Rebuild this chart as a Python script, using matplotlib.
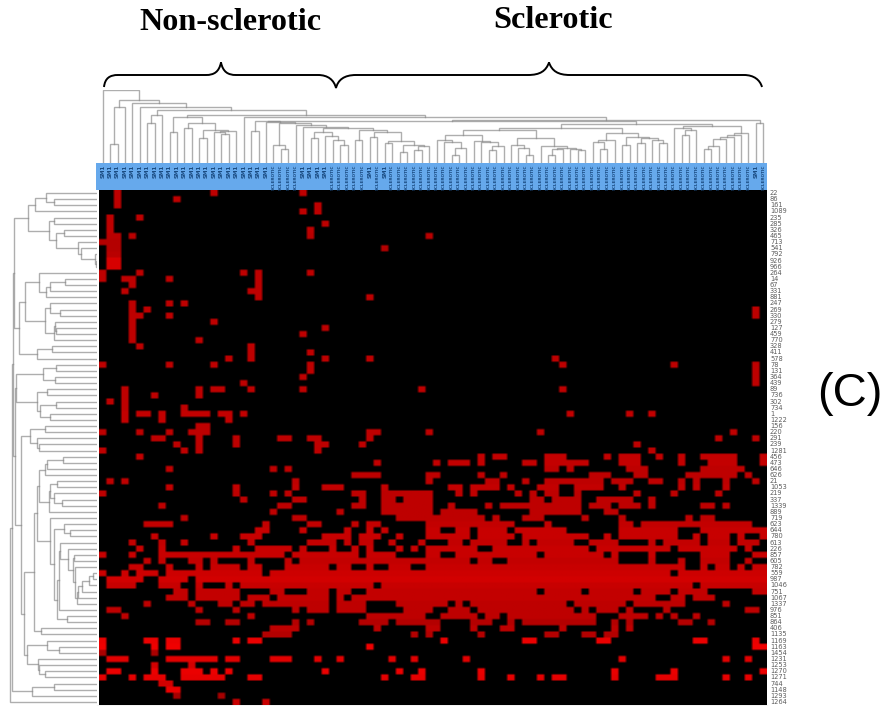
#!/usr/bin/env python3
"""Clustered heatmap of non-sclerotic vs sclerotic samples, panel (C)."""

import numpy as np
import matplotlib

matplotlib.use("Agg")

import matplotlib.pyplot as plt
from matplotlib.path import Path
from matplotlib.patches import PathPatch

W, H = 885, 706

ROW_LABELS = [22, 86, 161, 1089, 235, 285, 326, 465, 713, 541, 792, 926, 966, 264, 14, 67, 331,
              881, 247, 269, 330, 279, 127, 459, 770, 328, 411, 578, 78, 131, 364, 439, 89, 736,
              302, 734, 1, 1222, 156, 220, 291, 239, 1281, 456, 473, 646, 626, 21, 1053, 219,
              337, 1339, 889, 719, 623, 644, 780, 613, 226, 857, 605, 782, 559, 987, 1046, 751,
              1067, 1337, 976, 851, 864, 406, 1135, 1169, 1163, 1454, 1231, 1253, 1270, 1271,
              744, 1148, 1293, 1264]

N_COLS = 90
SHORT_COLS = list(range(23)) + [27, 28, 29, 30, 36, 38, 88]
SHORT_NAME = "SM1"
LONG_NAME = "SCLEROTIC"

# red cells of every row, as column runs
RED_RUNS = [
    "2 15 27", "2 10", "2 29", "27 29", "1 5", "1 30", "1 28", "1-2 4 28 44", "0-2", "1-2 38",
    "1-2", "1-2", "1-2", "0 5 19 21 28", "0 3-4 9 21", "4 21", "3 20-21", "21 36", "4 9 11",
    "4 6 88", "4-5 9 88", "4 15", "4 30", "4 27", "4 13", "5 20", "20 28", "17 20 30 36 61",
    "0 9 15 28 62 77 88", "28 88", "27 88", "19 88", "3 13 15-16 20 27 43 62", "3 7 13", "1 3",
    "3 11", "3 5-6 8 11-14 16-17 19 63 71 74", "3 8 17", "13-14",
    "0 5 9 12-14 36-37 44 59 85", "7-8 13 18 24-25 28-29 36 83 88",
    "10 13 18 29-30 35 72", "0 11 13 29 74",
    "5 51 53-54 60-62 68 70-72 75 78 81-85 89",
    "37 45 47-49 51 57-58 60-65 70-72 78 82-85 89",
    "9 23 25 60-61 63 71-73 81-86",
    "34-37 44-45 51 54 66-68 72-73 79-85 87",
    "1 3 26 44 52-53 57 60-67 69-71 74-75 78 80 84 88",
    "9 18 26 30-32 38 47-48 50-53 55 59-61 64-67 70 78 80 84",
    "0 18 23 25 34-35 38-44 48 50 56 58 60-61 64 72 77 83",
    "19 26-27 35 38-39 41-44 58-59 61-64 67-71 74",
    "8 24-25 34-35 38-44 47 52 54-64 66-68 70-72 74 81-82 84",
    "23 32 38-44 46-50 58-64 68-69",
    "11 26-27 40-51 53 57-59 65 70 79 81-82",
    "6-9 22 28-29 34 36-37 44-55 60 70-71 73-87",
    "21-22 27 33 36 38 44-45 48-49 51-54 56-62 70-77 81-89",
    "7 15 19-21 30-33 35-37 40 44-49 51-55 57-65 68 70-77 80 82-84 86 89",
    "4 8 11 20 28-31 33 35-36 39 43 47-48 50-54 57 59-63 66-69 74 76-80 82-84 86-88",
    "5 8 18 21-25 27 31 34 36 40 42 44-50 53-65 67-76 78-85 87",
    "0 4 8-24 26-34 36-39 44-45 48-58 60-67 69 74 81-84 88-89",
    "6 8 12-13 15 20 25 27-49 51-52 55-69 74 78 81-84 87",
    "4-5 9 13 15-18 20-21 25-30 32-33 36 39-41 44-78 81 83-84 86 88-89",
    "0 3 5-7 9-21 23-76 78-89",
    "1-5 8-11 13-89",
    "1-4 8-10 13 17 19-36 38-79 81-89",
    "10-11 13-18 23-24 28-30 32-33 36-58 60-64 66-71 73-76 78-81 88-89",
    "9-11 13-18 20-22 24-30 32 34-74 77-78 80-82",
    "6 12 16-17 19-20 22-30 32-35 40-46 48 50-62 64-70 72-78 84",
    "1-2 13 18 26 28-30 32-35 41-44 47-49 51-63 65 67-69 71 76 87-88",
    "3 20 36-43 46-50 52-53 55-66 70-73 75 77 80",
    "13-14 17-18 26 28 35-38 40-45 50-52 55 57-66 69 71 78-79 82",
    "23-26 37 44-45 50 54-55 62 69 71",
    "22-25 42 44 51 60-61 65-66 68-69",
    "0 6-7 9-10 18 20-21 46 57-58 67-68 80-81 88",
    "0 7 9-10 36 88-89",
    "0 7",
    "1-3 9-15 17-18 23-25 29 32 39 42 49 70 84 87",
    "7 12",
    "1-2 7 11-13 15 17 30 40 43 51 69 77 89",
    "0 4 6-8 11-14 15-16 20-21 38 42-43 51 55 59 61-62 69 75-77 84 87",
    "8-9", "9-10", "10 16", "18 22",
]

# red level of every row (0-255)
ROW_SHADE = [190, 190, 190, 190, 190, 190, 190, 185, 180, 180, 185, 215, 215, 190, 190, 190, 190,
             190, 190, 190, 190, 190, 190, 190, 190, 190, 190, 190, 190, 190, 190, 190, 190, 190,
             190, 190, 195, 195, 190, 190, 190, 190, 190, 195, 195, 190, 190, 190, 195, 190, 190,
             190, 190, 190, 195, 200, 200, 195, 200, 200, 195, 200, 205, 210, 200, 195, 195, 190,
             190, 190, 180, 190, 180, 235, 240, 170, 225, 210, 235, 230, 210, 235, 165, 200]

# dendrograms: (height, left, right), 0 is a leaf; heights in pixels
t_a = (56, (19, 0, 0), 0)
t_b = (48, (40, 0, 0), 0)
t_e = (46, (31, 0, 0), (40, (35, 0, 0), (33, (25, 0, 0), (32, (31, 0, (29, 0, 0)), 0))))
c45 = (23, 0, (21, 0, (15, (8, 0, 0), 0)))
c50 = (22, 0, (21, 0, (17, (13, 0, 0), 0)))
c55 = (18, 0, (15, 0, (8, 0, 0)))
c59 = (17, 0, (15, (14, (8, 0, 0), 0), (14, 0, (13, 0, 0))))
c66 = (23, (21, 0, (14, 0, 0)), 0)
c70 = (26, (18, 0, 0), (25, (20, 0, 0), (23, 0, (20, 0, 0))))
c77 = (35, 0, (33, (28, 0, 0), 0))
c81 = (30, (28, (26, (24, (17, (14, 0, 0), 0), 0), 0), 0), 0)
m3 = (33, (28, c45, c50), (25, c55, c59))
m7 = (39, (35, m3, (30, c66, c70)), (37, c77, c81))
k3 = (31, (25, 0, 0), (27, 0, (23, 0, (18, 0, 0))))
k6 = (22, (20, 0, 0), (18, (11, 0, 0), (17, (13, 0, 0), 0)))
k9 = (35, k3, (33, (23, 0, 0), (31, (26, 0, 0), k6)))
y1 = (42, (32, 0, 0), (41, 0, (40, (18, 0, (14, 0, 0)), (38, 0, (36, 0, k9)))))
r0 = (46, 0, (43.5, (42.5, y1, m7), (40, 0, 0)))
TOP_TREE = (73, 0, (63, t_a, (60, 0, (56, 0, (53, t_b, (48, t_e, r0))))))

a_top = (69, (62, (51, 0, (43, 0, 0)), 0),
         (48, (43, 0, 0), (41, (33, 0, 0), (19, 0, (16, 0, (2, 0, (1, 0, 0)))))))
e_f = (72, (58, 0, (51, (47, (32, 0, 0), 0), 0)),
       (52, (47, 0, (37, 0, 0)), (43, (42, 0, (41, 0, 0)), 0)))
a_b = (83, a_top, (78, e_f, (60, (45, 0, 0), 0)))
g_h = (81, (54, (41, 0, 0), (42, 0, 0)), (60, (50, 0, 0), (57, (41, 0, 0), (47, 0, 0))))
j_top = (67, (52, 0, 0), (60, 0, (58, 0, 0)))
k_3 = (58, (52, (50, (34, 0, 0), 0), 0), (48, (47, (40, 0, 0), (43, 0, (35, 0, 0))), 0))
q_2 = (20, (19, (15, (8, (4, 0, 0), 0), 0), 0), 0)
p_5 = (40, (38, (37, 0, (29, 0, (24, (23, 0, 0), (22, 0, q_2)))), 0), (30, 0, 0))
k_4 = (47, 0, (43, (33, 0, (27, 0, 0)), p_5))
l_1 = (70, (50, 0, (38, 0, 0)), (59, 0, (58, 0, (52, 0, 0))))
k_7 = (73, (63, (60, k_3, k_4), (56, 0, 0)), l_1)
LEFT_TREE = (87, (85, (84, a_b, (82, g_h, (76, j_top, k_7))), (65, (43, 0, 0), 0)), 0)


def px_axes(fig, x, y, w, h):
    ax = fig.add_axes([x / W, 1 - (y + h) / H, w / W, h / H])
    ax.axis("off")
    return ax


def parse_runs(text):
    cols = []
    for part in text.split():
        a, _, b = part.partition("-")
        cols.extend(range(int(a), int(b or a) + 1))
    return cols


def draw_tree(ax, node, counter, horizontal):
    if node == 0:
        counter[0] += 1
        return counter[0] - 1 + 0.5, 0
    height, left, right = node
    p1, h1 = draw_tree(ax, left, counter, horizontal)
    p2, h2 = draw_tree(ax, right, counter, horizontal)
    pos = [p1, p1, p2, p2]
    hts = [h1, height, height, h2]
    if horizontal:
        ax.plot(pos, hts, color="#8c8c8c", lw=1.0, alpha=0.7, solid_joinstyle="miter")
    else:
        ax.plot(hts, pos, color="#8c8c8c", lw=1.0, alpha=0.7, solid_joinstyle="miter")
    return (p1 + p2) / 2, height


def brace(ax):
    verts = [(104, 87), (105, 78), (110, 75), (118, 75),
             (206, 75), (214, 75), (219, 72), (221, 62.5),
             (223, 72), (228, 75), (236, 75),
             (318, 75), (328, 75), (334, 80), (336, 88),
             (338, 80), (344, 75), (356, 75),
             (528, 75), (540, 75), (546, 71), (549, 62.5),
             (552, 71), (558, 75), (570, 75),
             (744, 75), (754, 75), (760, 80), (762, 87)]
    codes = [Path.MOVETO, Path.CURVE4, Path.CURVE4, Path.CURVE4,
             Path.LINETO, Path.CURVE4, Path.CURVE4, Path.CURVE4,
             Path.CURVE4, Path.CURVE4, Path.CURVE4,
             Path.LINETO, Path.CURVE4, Path.CURVE4, Path.CURVE4,
             Path.CURVE4, Path.CURVE4, Path.CURVE4,
             Path.LINETO, Path.CURVE4, Path.CURVE4, Path.CURVE4,
             Path.CURVE4, Path.CURVE4, Path.CURVE4,
             Path.LINETO, Path.CURVE4, Path.CURVE4, Path.CURVE4]
    ax.add_patch(PathPatch(Path(verts, codes), fc="none", ec="black", lw=1.4))


def main():
    fig = plt.figure(figsize=(W / 100, H / 100), dpi=100)
    n_rows = len(ROW_LABELS)

    # heatmap, upsampled a little so the cells get the soft edges of the original
    grid = np.zeros((n_rows, N_COLS, 3))
    for r, text in enumerate(RED_RUNS):
        grid[r, parse_runs(text), 0] = ROW_SHADE[r] / 255
    grid = grid.repeat(3, axis=0).repeat(3, axis=1)
    ax = px_axes(fig, 99, 190, 668, 515)
    ax.imshow(grid, aspect="auto", interpolation="bilinear",
              extent=(0, N_COLS, n_rows, 0))

    # sample band
    ax = px_axes(fig, 96, 163, 671, 27)
    ax.set_facecolor("#66a9ec")
    ax.patch.set_visible(True)
    ax.axis("on")
    ax.set_xticks([])
    ax.set_yticks([])
    for s in ax.spines.values():
        s.set_visible(False)
    ax.set_xlim(-3 / 7.42, N_COLS)
    ax.set_ylim(27, 0)
    for c in range(N_COLS):
        short = c in SHORT_COLS
        ax.text(c + 0.5, 2, SHORT_NAME if short else LONG_NAME, rotation=90, ha="center",
                va="top", color="#1b4c82", fontsize=4 if short else 3.0, fontweight="bold")

    # column dendrogram
    ax = px_axes(fig, 99, 90, 668, 73)
    ax.set_xlim(0, N_COLS)
    ax.set_ylim(0, 73)
    draw_tree(ax, TOP_TREE, [0], True)

    # row dendrogram
    ax = px_axes(fig, 0, 190, 96.7, 515)
    ax.set_xlim(96.7, 0)
    ax.set_ylim(n_rows, 0)
    draw_tree(ax, LEFT_TREE, [0], False)

    # row labels, titles and brace on one overlay in pixel coordinates
    ax = px_axes(fig, 0, 0, W, H)
    ax.set_xlim(0, W)
    ax.set_ylim(H, 0)
    ax.patch.set_visible(False)
    for r, label in enumerate(ROW_LABELS):
        ax.text(770, 190 + (r + 0.5) * 515 / n_rows, str(label), ha="left", va="center",
                fontsize=4.8, color="#5c5c5c")
    ax.plot([97, 767], [705.5, 705.5], color="#c8c8c8", lw=1)
    brace(ax)
    ax.text(230.5, 22, "Non-sclerotic", ha="center", va="center", fontsize=23.2,
            fontweight="bold", family="Liberation Serif")
    ax.text(553.5, 21, "Sclerotic", ha="center", va="center", fontsize=23.2,
            fontweight="bold", family="Liberation Serif")
    ax.text(850, 394, "(C)", ha="center", va="center", fontsize=34, family="Liberation Sans")

    fig.savefig("out.png", dpi=100)


if __name__ == "__main__":
    main()
